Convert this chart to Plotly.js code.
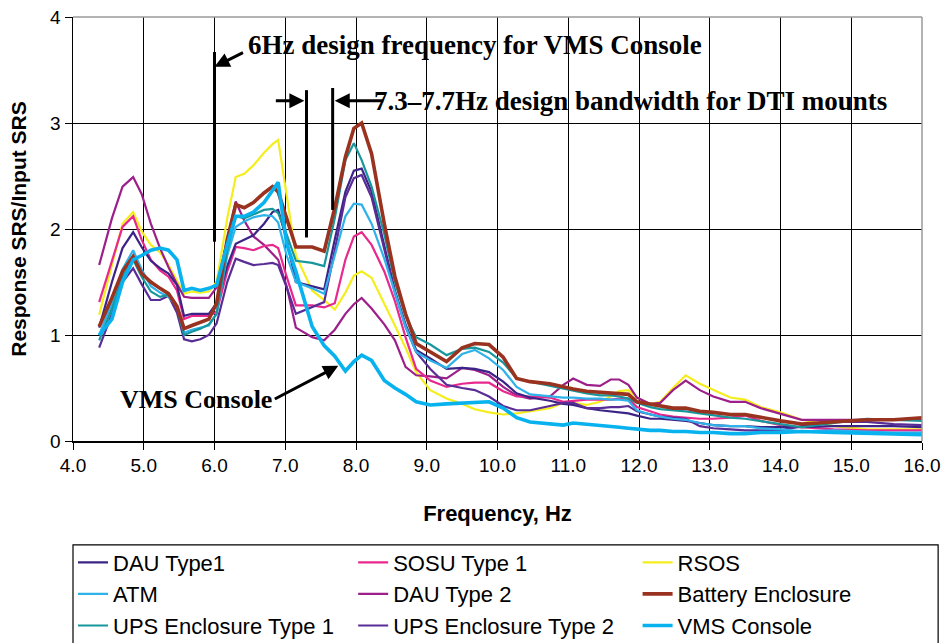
<!DOCTYPE html>
<html>
<head>
<meta charset="utf-8">
<script src="https://cdn.plot.ly/plotly-3.0.1.min.js"></script>
<style>
  html, body { margin: 0; padding: 0; background: #ffffff; }
  #chart { width: 944px; height: 643px; }
</style>
</head>
<body>
<div id="chart"></div>
<script>
// Frequency points (Hz) shared by every response curve
const freq = [4.37, 4.55, 4.7, 4.85, 4.97, 5.1, 5.23, 5.35, 5.47, 5.57, 5.68, 5.8, 5.92, 6.03, 6.18, 6.3, 6.42, 6.55, 6.7, 6.82, 6.9, 7.02, 7.15, 7.38, 7.55, 7.7, 7.85, 7.97, 8.08, 8.22, 8.4, 8.55, 8.7, 8.85, 9.05, 9.28, 9.5, 9.68, 9.88, 10.08, 10.27, 10.46, 10.74, 10.93, 11.07, 11.26, 11.45, 11.6, 11.72, 11.85, 11.97, 12.16, 12.3, 12.48, 12.66, 12.86, 13.05, 13.29, 13.5, 13.72, 14.0, 14.3, 14.75, 15.22, 15.6, 16.0];

// Response SRS / Input SRS ratio for each unit
const dauType1 = [1.07, 1.5, 1.82, 1.97, 1.83, 1.70, 1.63, 1.58, 1.47, 1.18, 1.20, 1.20, 1.20, 1.30, 1.65, 1.86, 1.90, 1.94, 2.05, 2.16, 2.18, 1.90, 1.50, 1.46, 1.43, 1.90, 2.35, 2.55, 2.57, 2.35, 1.85, 1.42, 1.10, 0.86, 0.78, 0.68, 0.69, 0.68, 0.65, 0.56, 0.45, 0.41, 0.38, 0.35, 0.34, 0.31, 0.29, 0.28, 0.27, 0.26, 0.24, 0.21, 0.21, 0.20, 0.19, 0.17, 0.15, 0.14, 0.14, 0.13, 0.13, 0.13, 0.14, 0.14, 0.14, 0.13];
const sosuType1 = [1.31, 1.7, 2.02, 2.12, 1.90, 1.71, 1.61, 1.55, 1.42, 1.15, 1.18, 1.18, 1.18, 1.22, 1.60, 1.83, 1.82, 1.80, 1.84, 1.85, 1.82, 1.55, 1.28, 1.28, 1.26, 1.30, 1.71, 1.93, 1.97, 1.85, 1.60, 1.32, 0.98, 0.68, 0.57, 0.51, 0.54, 0.55, 0.55, 0.47, 0.42, 0.42, 0.41, 0.37, 0.38, 0.39, 0.39, 0.39, 0.40, 0.40, 0.32, 0.28, 0.25, 0.23, 0.22, 0.21, 0.21, 0.22, 0.24, 0.19, 0.15, 0.13, 0.11, 0.10, 0.10, 0.10];
const rsos = [1.19, 1.65, 2.05, 2.16, 1.98, 1.85, 1.78, 1.66, 1.52, 1.39, 1.41, 1.40, 1.41, 1.50, 2.10, 2.49, 2.52, 2.60, 2.72, 2.80, 2.84, 2.30, 1.75, 1.42, 1.33, 1.24, 1.40, 1.56, 1.60, 1.54, 1.30, 1.09, 0.88, 0.65, 0.48, 0.40, 0.35, 0.30, 0.27, 0.25, 0.26, 0.28, 0.31, 0.36, 0.36, 0.34, 0.37, 0.42, 0.47, 0.48, 0.41, 0.35, 0.37, 0.50, 0.62, 0.54, 0.48, 0.41, 0.39, 0.32, 0.27, 0.20, 0.14, 0.11, 0.11, 0.11];
const atm = [1.0, 1.3, 1.62, 1.80, 1.62, 1.46, 1.40, 1.36, 1.27, 1.02, 1.05, 1.07, 1.09, 1.20, 1.75, 2.02, 2.07, 2.11, 2.13, 2.12, 2.06, 1.75, 1.50, 1.44, 1.39, 1.75, 2.12, 2.24, 2.23, 2.05, 1.72, 1.40, 1.08, 0.84, 0.76, 0.69, 0.82, 0.86, 0.78, 0.67, 0.51, 0.44, 0.42, 0.41, 0.41, 0.40, 0.40, 0.39, 0.39, 0.38, 0.29, 0.25, 0.23, 0.21, 0.20, 0.17, 0.15, 0.14, 0.14, 0.12, 0.11, 0.09, 0.10, 0.09, 0.08, 0.08];
const dauType2 = [1.66, 2.1, 2.4, 2.49, 2.33, 2.05, 1.82, 1.64, 1.48, 1.36, 1.35, 1.35, 1.35, 1.45, 1.90, 2.26, 2.08, 1.93, 1.85, 1.77, 1.71, 1.46, 1.07, 0.98, 0.95, 1.05, 1.20, 1.29, 1.35, 1.25, 1.10, 0.95, 0.70, 0.62, 0.61, 0.59, 0.69, 0.67, 0.62, 0.51, 0.43, 0.40, 0.42, 0.53, 0.59, 0.53, 0.52, 0.58, 0.58, 0.53, 0.41, 0.35, 0.36, 0.48, 0.57, 0.48, 0.42, 0.37, 0.37, 0.31, 0.26, 0.20, 0.20, 0.20, 0.20, 0.20];
const batteryEnclosure = [1.08, 1.35, 1.6, 1.74, 1.58, 1.50, 1.44, 1.39, 1.27, 1.06, 1.09, 1.12, 1.15, 1.30, 1.90, 2.23, 2.20, 2.25, 2.34, 2.40, 2.35, 2.10, 1.83, 1.83, 1.79, 2.20, 2.68, 2.95, 3.00, 2.71, 2.05, 1.55, 1.20, 0.92, 0.84, 0.75, 0.88, 0.92, 0.91, 0.79, 0.59, 0.56, 0.54, 0.51, 0.49, 0.47, 0.46, 0.45, 0.45, 0.44, 0.37, 0.35, 0.33, 0.31, 0.31, 0.28, 0.27, 0.25, 0.25, 0.22, 0.19, 0.16, 0.18, 0.20, 0.20, 0.22];
const upsType1 = [0.95, 1.25, 1.55, 1.71, 1.55, 1.41, 1.36, 1.38, 1.26, 1.00, 1.03, 1.06, 1.10, 1.20, 1.80, 2.12, 2.10, 2.14, 2.18, 2.19, 2.15, 1.95, 1.70, 1.68, 1.65, 2.10, 2.65, 2.81, 2.65, 2.40, 1.95, 1.50, 1.18, 0.98, 0.91, 0.81, 0.87, 0.88, 0.84, 0.74, 0.59, 0.56, 0.52, 0.49, 0.47, 0.45, 0.43, 0.43, 0.42, 0.40, 0.36, 0.32, 0.30, 0.29, 0.28, 0.26, 0.24, 0.22, 0.21, 0.19, 0.16, 0.13, 0.17, 0.21, 0.20, 0.19];
const upsType2 = [0.88, 1.2, 1.5, 1.63, 1.48, 1.33, 1.33, 1.37, 1.21, 0.96, 0.94, 0.96, 1.00, 1.11, 1.50, 1.72, 1.69, 1.66, 1.67, 1.68, 1.66, 1.45, 1.20, 1.26, 1.31, 1.80, 2.30, 2.48, 2.51, 2.30, 1.80, 1.40, 1.08, 0.84, 0.68, 0.53, 0.50, 0.48, 0.42, 0.33, 0.29, 0.29, 0.33, 0.36, 0.36, 0.31, 0.31, 0.32, 0.32, 0.33, 0.28, 0.25, 0.23, 0.22, 0.21, 0.14, 0.12, 0.11, 0.10, 0.10, 0.10, 0.14, 0.18, 0.18, 0.16, 0.15];
const vmsConsole = [1.0, 1.15, 1.50, 1.71, 1.75, 1.80, 1.82, 1.80, 1.71, 1.42, 1.44, 1.42, 1.44, 1.47, 1.85, 2.12, 2.12, 2.16, 2.25, 2.36, 2.44, 1.86, 1.60, 1.08, 0.90, 0.80, 0.66, 0.75, 0.81, 0.76, 0.57, 0.50, 0.44, 0.37, 0.34, 0.35, 0.36, 0.36, 0.37, 0.31, 0.22, 0.18, 0.16, 0.15, 0.17, 0.16, 0.15, 0.14, 0.13, 0.12, 0.11, 0.10, 0.10, 0.09, 0.09, 0.08, 0.08, 0.07, 0.07, 0.08, 0.08, 0.09, 0.08, 0.07, 0.07, 0.06];

const seriesNames = ['DAU Type1', 'SOSU Type 1', 'RSOS', 'ATM', 'DAU Type 2', 'Battery Enclosure', 'UPS Enclosure Type 1', 'UPS Enclosure Type 2', 'VMS Console'];
const seriesValues = [dauType1, sosuType1, rsos, atm, dauType2, batteryEnclosure, upsType1, upsType2, vmsConsole];
const seriesColors = ['#3c2486', '#e8288c', '#f5ee1e', '#2fb2ea', '#9c1f8a', '#99321f', '#17979c', '#5a2c96', '#08b2ee'];
const seriesWidths = [2.2, 2.2, 2.2, 2.2, 2.2, 3.6, 2.2, 2.2, 3.6];
// legend column for each series (three columns, three rows)
const legendCols = ['legend', 'legend2', 'legend3', 'legend', 'legend2', 'legend3', 'legend', 'legend2', 'legend3'];

// Draw thin curves first, thick ones last
const drawOrder = [2, 4, 1, 0, 7, 3, 6, 5, 8];
const traces = drawOrder.map(i => ({
  type: 'scatter',
  mode: 'lines',
  name: seriesNames[i],
  x: freq,
  y: seriesValues[i],
  line: { color: seriesColors[i], width: seriesWidths[i] },
  legend: legendCols[i],
  legendgroup: 'g' + i,
  legendrank: i,
  hoverinfo: 'x+y+name'
}));

const sansFamily = 'Liberation Sans, Arial, sans-serif';
const serifFamily = 'Liberation Serif, Times New Roman, serif';
const tickFont = { family: sansFamily, size: 19, color: '#000' };
const noteFont = { family: serifFamily, size: 27, color: '#000', weight: 'bold' };
const labelFont = { family: serifFamily, size: 26, color: '#000', weight: 'bold' };

const legendBase = {
  orientation: 'v',
  yanchor: 'top',
  y: -0.237,
  xanchor: 'left',
  bgcolor: 'rgba(0,0,0,0)',
  borderwidth: 0,
  font: { family: sansFamily, size: 22, color: '#000' },
  tracegroupgap: 0,
  itemwidth: 30,
  traceorder: 'normal'
};

const layout = {
  width: 944,
  height: 643,
  margin: { l: 73, r: 22, t: 17, b: 202, autoexpand: false },
  paper_bgcolor: '#ffffff',
  plot_bgcolor: '#ffffff',
  showlegend: true,
  xaxis: {
    range: [4, 16],
    dtick: 1,
    tick0: 4,
    tickformat: '.1f',
    showgrid: true,
    gridcolor: '#000000',
    gridwidth: 1,
    showline: true,
    linecolor: '#000000',
    linewidth: 1.5,
    ticks: 'outside',
    ticklen: 7,
    tickcolor: '#000',
    tickfont: tickFont,
    zeroline: false,
    automargin: false,
    title: { text: 'Frequency, Hz', font: { family: sansFamily, size: 22, color: '#000', weight: 'bold' }, standoff: 30 }
  },
  yaxis: {
    range: [0, 4],
    dtick: 1,
    showgrid: true,
    gridcolor: '#000000',
    gridwidth: 1,
    showline: true,
    linecolor: '#000000',
    linewidth: 1.5,
    ticks: 'outside',
    ticklen: 7,
    tickcolor: '#000',
    tickfont: tickFont,
    zeroline: false,
    automargin: false,
    title: { text: 'Response SRS/Input SRS', font: { family: sansFamily, size: 21, color: '#000', weight: 'bold' }, standoff: 18 }
  },
  legend: Object.assign({}, legendBase, { x: 0.0 }),
  legend2: Object.assign({}, legendBase, { x: 0.33 }),
  legend3: Object.assign({}, legendBase, { x: 0.665 }),
  shapes: [
    // grey top and right frame edges
    { type: 'line', xref: 'paper', yref: 'paper', x0: 0, x1: 1, y0: 1, y1: 1, line: { color: '#9a9a9a', width: 1.5 }, layer: 'above' },
    { type: 'line', xref: 'paper', yref: 'paper', x0: 1, x1: 1, y0: 0, y1: 1, line: { color: '#9a9a9a', width: 1.5 }, layer: 'above' },
    // design frequency / bandwidth markers
    { type: 'line', xref: 'x', yref: 'y', x0: 6.0, x1: 6.0, y0: 1.88, y1: 3.67, line: { color: '#000', width: 3 }, layer: 'above' },
    { type: 'line', xref: 'x', yref: 'y', x0: 7.3, x1: 7.3, y0: 1.92, y1: 3.31, line: { color: '#000', width: 3 }, layer: 'above' },
    { type: 'line', xref: 'x', yref: 'y', x0: 7.67, x1: 7.67, y0: 2.18, y1: 3.33, line: { color: '#000', width: 3 }, layer: 'above' },
    // legend frame
    { type: 'rect', xref: 'paper', yref: 'paper', x0: 0, x1: 1.019, y0: -0.245, y1: -0.52, line: { color: '#000', width: 1.2 }, fillcolor: 'rgba(0,0,0,0)' }
  ],
  annotations: [
    { xref: 'x', yref: 'y', x: 6.45, y: 3.74, xanchor: 'left', yanchor: 'middle', showarrow: false, text: '6Hz design frequency for VMS Console', font: noteFont },
    { xref: 'x', yref: 'y', x: 6.0, y: 3.53, ax: 30, ay: -15, text: '', showarrow: true, arrowhead: 2, arrowsize: 1, arrowwidth: 3, arrowcolor: '#000', standoff: 0 },
    { xref: 'x', yref: 'y', x: 8.23, y: 3.21, xanchor: 'left', yanchor: 'middle', showarrow: false, text: '7.3\u20137.7Hz design bandwidth for DTI mounts', font: noteFont },
    { xref: 'x', yref: 'y', x: 7.27, y: 3.21, ax: -30, ay: 0, text: '', showarrow: true, arrowhead: 2, arrowsize: 1, arrowwidth: 3, arrowcolor: '#000', standoff: 0 },
    { xref: 'x', yref: 'y', x: 7.70, y: 3.21, ax: 50, ay: 0, text: '', showarrow: true, arrowhead: 2, arrowsize: 1, arrowwidth: 3, arrowcolor: '#000', standoff: 0 },
    { xref: 'x', yref: 'y', x: 4.64, y: 0.39, xanchor: 'left', yanchor: 'middle', showarrow: false, text: 'VMS Console', font: labelFont },
    { xref: 'x', yref: 'y', x: 7.75, y: 0.71, ax: -65, ay: 34, text: '', showarrow: true, arrowhead: 2, arrowsize: 1, arrowwidth: 3, arrowcolor: '#000', standoff: 0 }
  ]
};

Plotly.newPlot('chart', traces, layout, { displayModeBar: false, staticPlot: true });
</script>
</body>
</html>
